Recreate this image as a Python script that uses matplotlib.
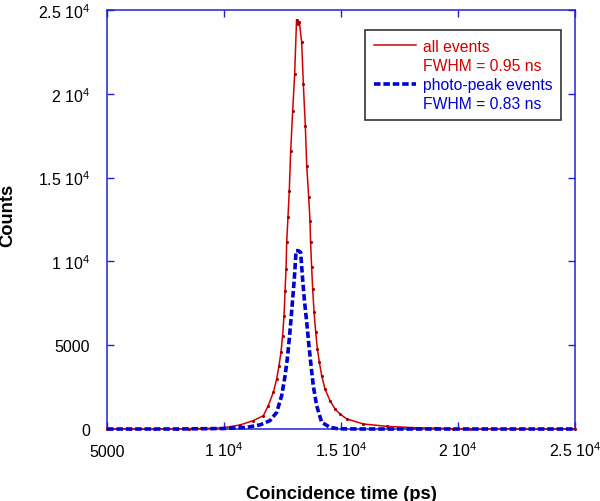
import matplotlib
matplotlib.use("Agg")
import matplotlib.pyplot as plt
from matplotlib.lines import Line2D

plt.rcParams['font.family'] = ['Liberation Sans', 'DejaVu Sans']
plt.rcParams['mathtext.fontset'] = 'custom'
plt.rcParams['mathtext.rm'] = 'Liberation Sans'
plt.rcParams['mathtext.it'] = 'Liberation Sans'

# all events histogram
t_all = [5000, 6000, 7000, 8000, 8500, 9000, 9540, 10000, 10680, 11250, 11680,
         11890, 12110, 12250, 12350, 12435, 12505, 12565, 12610, 12650, 12680,
         12735, 12790, 12850, 12935, 13020, 13100, 13160, 13220, 13320, 13390,
         13475, 13535, 13620, 13675, 13700, 13745, 13790, 13850, 13920, 13990,
         14075, 14175, 14315, 14530, 14745, 14960, 15245, 15955, 16950, 18080,
         19000, 19800, 20500, 25000]
n_all = [0, 0, 0, 10, 20, 30, 40, 80, 240, 500, 790,
         1390, 2190, 2980, 3780, 4580, 5570, 6760, 8250, 9550, 11160,
         12650, 14220, 16600, 18990, 21180, 24420, 24150, 24260, 23070, 20580,
         18100, 15710, 13830, 12430, 11140, 9650, 8350, 6960, 5770, 4770,
         3980, 3180, 2390, 1690, 1190, 895, 600, 300, 160, 80,
         50, 20, 0, 0]

# photo-peak events
t_pp = [5000, 8000, 9980, 10970, 11550, 11965, 12250, 12465, 12610, 12705,
        12790, 12865, 12935, 13005, 13080, 13170, 13275, 13360, 13430, 13535,
        13630, 13720, 13815, 13960, 14175, 14530, 14890, 16000, 25000]
n_pp = [0, 0, 30, 100, 250, 500, 990, 1990, 3180, 4180,
        5370, 6560, 7760, 8950, 10640, 10640, 10540, 8950, 7760, 6370,
        4970, 3780, 2580, 1390, 400, 100, 10, 0, 0]

ticks = [5000, 10000, 15000, 20000, 25000]
xlabels = ['5000', '1 10$^{4}$', '1.5 10$^{4}$', '2 10$^{4}$', '2.5 10$^{4}$']
yticks = [0, 5000, 10000, 15000, 20000, 25000]
ylabels = ['0', '5000', '1 10$^{4}$', '1.5 10$^{4}$', '2 10$^{4}$', '2.5 10$^{4}$']

red = '#d00000'
blue = '#0000d0'
axis_blue = '#2020d8'

fig = plt.figure(figsize=(6, 5.02), dpi=100)
ax = fig.add_axes([107/600, 1-430/502, 468/600, 419/502])

ax.plot(t_all, n_all, color=red, lw=1.1, marker='.', ms=2.5, mec='#a00000',
        mfc='#a00000', clip_on=False, zorder=3)
ax.plot(t_pp, n_pp, color=blue, lw=2.6, dashes=(1.8, 0.8), clip_on=False, zorder=4)

ax.set_xlim(5000, 25000)
ax.set_ylim(0, 25000)
ax.set_xticks(ticks)
ax.set_xticklabels(xlabels)
ax.set_yticks(yticks)
ax.set_yticklabels(ylabels)
ax.tick_params(direction='in', length=5, width=1, color=axis_blue, labelsize=11.5,
               top=True, right=True)
ax.tick_params(axis='y', pad=12)
ax.tick_params(axis='x', pad=19.5)
for lab in ax.get_xticklabels():
    lab.set_verticalalignment('baseline')
for s in ax.spines.values():
    s.set_color(axis_blue)
    s.set_linewidth(1.1)

ax.set_xlabel('Coincidence time (ps)', fontsize=13.2, fontweight='bold', va='center')
ax.xaxis.set_label_coords(0.5, -0.155)
ax.set_ylabel('Counts', fontsize=13.2, fontweight='bold', va='center', ha='center')
ax.yaxis.set_label_coords(-0.2115, 0.513)

handles = [Line2D([], [], color=red, lw=1.1),
           Line2D([], [], color='none'),
           Line2D([], [], color=blue, lw=2.6, dashes=(1.8, 0.8)),
           Line2D([], [], color='none')]
labels = ['all events', 'FWHM = 0.95 ns', 'photo-peak events', 'FWHM = 0.83 ns']
leg = ax.legend(handles, labels, loc='upper left', bbox_to_anchor=(365/600, 1-31/502),
                bbox_transform=fig.transFigure, fontsize=11.3, frameon=True,
                fancybox=False, edgecolor='black', handlelength=2.7,
                handletextpad=0.45, labelspacing=0.27, borderpad=0.55,
                borderaxespad=0, labelcolor=[red, red, blue, blue])
leg.get_frame().set_linewidth(1.2)

fig.savefig('out.png', dpi=100)
